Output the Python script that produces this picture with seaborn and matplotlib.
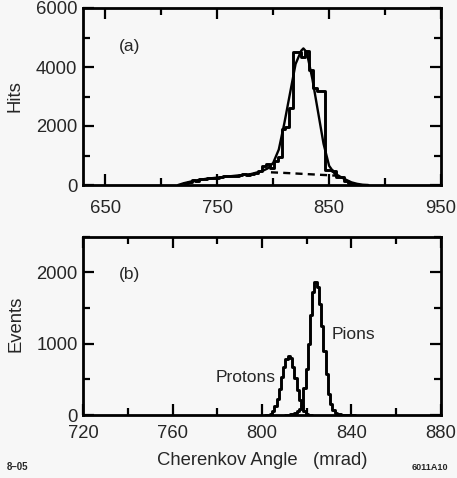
import numpy as np
import pandas as pd
import matplotlib
matplotlib.use("Agg")
import matplotlib.pyplot as plt
from matplotlib.ticker import MultipleLocator
import seaborn as sns

# ---------------- data: panel (a) ----------------
# histogram bin left edges (3.5 mrad bins) and hits per bin
hist_a_left = [720, 723.5, 727, 730.5, 734, 737.5, 741, 744.5, 748, 751.5,
               755, 758.5, 762, 765.5, 769, 772.5, 776, 779.5, 783, 786.5,
               790, 793.5, 797, 800.5, 804, 807.5, 811, 814.5, 818, 821.5,
               825, 828.5, 832, 835.5, 839, 842.5, 846, 849.5, 853, 856.5,
               860, 863.5, 867, 870.5, 874, 877.5]
hist_a_hits = [60, 100, 170, 150, 220, 200, 230, 250, 230, 260,
               300, 290, 300, 310, 330, 360, 340, 380, 420, 480,
               650, 700, 560, 800, 950, 1900, 1950, 2600, 4500, 4500,
               4350, 4550, 3900, 3300, 3200, 3200, 500, 500, 480, 260,
               280, 120, 60, 30, 10, 0]
bin_a_width = 3.5

# fitted curve (signal + background)
fit_angle = [715, 720, 730, 740, 750, 760, 770, 780, 790, 795, 800, 805,
             810, 815, 820, 825, 827, 830, 835, 840, 845, 850, 855, 860,
             865, 870, 875, 880, 885]
fit_hits = [0, 60, 150, 210, 250, 290, 330, 370, 470, 560, 750, 1200,
            2100, 3100, 4100, 4550, 4630, 4500, 3600, 2500, 1400, 650, 380,
            280, 180, 90, 40, 10, 0]

# background under the peak (dashed)
bkg_angle = [798, 810, 825, 840, 855, 862]
bkg_hits = [430, 410, 380, 350, 320, 300]

# ---------------- data: panel (b) ----------------
proton_angle = list(range(802, 823))
proton_events = [0, 5, 20, 60, 130, 230, 370, 530, 680, 790, 830, 800,
                 680, 520, 350, 210, 120, 50, 20, 5, 0]
pion_angle = list(range(811, 842))
pion_events = [0, 5, 10, 20, 35, 55, 80, 130, 380, 650, 1000, 1400, 1720,
               1860, 1790, 1550, 1250, 900, 580, 300, 150, 70, 35, 15, 8,
               5, 3, 2, 1, 0, 0]

xticks_a = [650, 750, 850, 950]
yticks_a = [0, 2000, 4000, 6000]
xticks_b = [720, 760, 800, 840, 880]
yticks_b = [0, 1000, 2000]

# ---------------- style ----------------
sns.set_style("ticks")
plt.rcParams["font.family"] = ["Liberation Sans", "DejaVu Sans"]
BG = "#f7f7f7"

fig = plt.figure(figsize=(4.57, 4.78), dpi=100, facecolor=BG)
ax1 = fig.add_axes([83 / 457, 1 - 185 / 478, 358 / 457, 177 / 478])
ax2 = fig.add_axes([83.3 / 457, 1 - 415 / 478, 357.4 / 457, 178.3 / 478])

FS = 13.3

def style_axes(ax, xpad):
    ax.set_facecolor(BG)
    for s in ax.spines.values():
        s.set_linewidth(2.0)
        s.set_color("black")
        s.set_visible(True)
    ax.tick_params(which="both", direction="in", top=True, right=True,
                   color="black", width=1.6, labelsize=FS)
    ax.tick_params(which="major", length=8)
    ax.tick_params(which="minor", length=5)
    ax.tick_params(axis="x", which="both", pad=xpad)
    ax.tick_params(axis="y", which="both", pad=4)

# ---- panel (a)
df_a = pd.DataFrame({"angle": np.array(hist_a_left) + bin_a_width / 2,
                     "hits": hist_a_hits})
edges_a = list(hist_a_left) + [hist_a_left[-1] + bin_a_width]
sns.histplot(data=df_a, x="angle", weights="hits", bins=edges_a,
             element="step", fill=False, color="black", linewidth=2.1, ax=ax1)
sns.lineplot(x=fit_angle, y=fit_hits, color="black", linewidth=1.7,
             estimator=None, sort=True, ax=ax1)
sns.lineplot(x=bkg_angle, y=bkg_hits, color="black", linewidth=1.7,
             estimator=None, ax=ax1, linestyle=(0, (3, 2.2)))
ax1.set_xlim(630, 950)
ax1.set_ylim(0, 6000)
ax1.set_xticks(xticks_a)
ax1.set_yticks(yticks_a)
ax1.xaxis.set_minor_locator(MultipleLocator(50))
ax1.yaxis.set_minor_locator(MultipleLocator(1000))
style_axes(ax1, 11)
ax1.set_xlabel("")
ax1.set_ylabel("Hits", fontsize=FS)
ax1.yaxis.set_label_coords(-0.165, 0.5)
ax1.text(0.10, 0.78, "(a)", transform=ax1.transAxes, fontsize=FS - 0.8,
         ha="left", va="center")

# ---- panel (b)
df_p = pd.DataFrame({"angle": proton_angle, "events": proton_events})
df_pi = pd.DataFrame({"angle": pion_angle, "events": pion_events})
edges_p = [a - 0.5 for a in proton_angle] + [proton_angle[-1] + 0.5]
edges_pi = [a - 0.5 for a in pion_angle] + [pion_angle[-1] + 0.5]
sns.histplot(data=df_p, x="angle", weights="events", bins=edges_p,
             element="step", fill=False, color="black", linewidth=2.1, ax=ax2)
sns.histplot(data=df_pi, x="angle", weights="events", bins=edges_pi,
             element="step", fill=False, color="black", linewidth=2.1, ax=ax2)
ax2.set_xlim(720, 880)
ax2.set_ylim(0, 2500)
ax2.set_xticks(xticks_b)
ax2.set_yticks(yticks_b)
ax2.xaxis.set_minor_locator(MultipleLocator(20))
ax2.yaxis.set_minor_locator(MultipleLocator(500))
style_axes(ax2, 7)
ax2.set_xlabel("Cherenkov Angle   (mrad)", fontsize=FS)
ax2.xaxis.set_label_coords(0.5, -0.205)
ax2.set_ylabel("Events", fontsize=FS)
ax2.yaxis.set_label_coords(-0.165, 0.51)
ax2.text(0.10, 0.79, "(b)", transform=ax2.transAxes, fontsize=FS - 0.8,
         ha="left", va="center")
ax2.text(806, 520, "Protons", fontsize=FS - 0.8, ha="right", va="center")
ax2.text(831, 1130, "Pions", fontsize=FS - 0.8, ha="left", va="center")

fig.text(7 / 457, 1 - 467 / 478, "8\u201305", fontsize=7, weight="bold",
         ha="left", va="center")
fig.text(448 / 457, 1 - 468 / 478, "6011A10", fontsize=6.5, weight="bold",
         ha="right", va="center")

fig.savefig("out.png", dpi=100, facecolor=BG)
